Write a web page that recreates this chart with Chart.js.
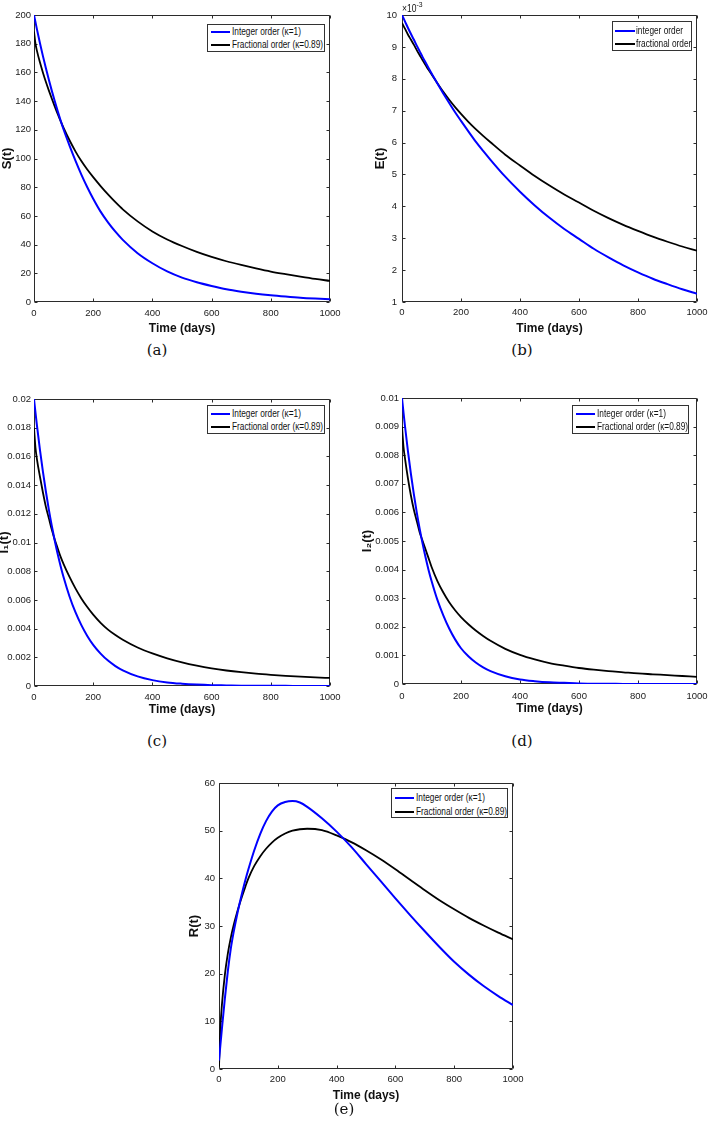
<!DOCTYPE html>
<html><head><meta charset="utf-8">
<script src="https://cdn.jsdelivr.net/npm/chart.js@4.4.1/dist/chart.umd.min.js"></script>
<style>
html,body{margin:0;padding:0;background:#fff;}
body{width:708px;height:1127px;position:relative;overflow:hidden;font-family:"Liberation Sans Narrow","Arial Narrow","Liberation Sans",Arial,sans-serif;}
canvas{position:absolute;}
.legend{position:absolute;background:#fff;border:1px solid #333;box-sizing:border-box;font-size:10px;color:#111;}
.row{position:absolute;left:0;right:0;height:12px;line-height:12px;white-space:nowrap;}
.sw{position:absolute;top:5px;height:2px;}
.lab{position:absolute;top:0;transform:scaleX(0.83);transform-origin:0 50%;}
.cap{position:absolute;font-family:"DejaVu Serif",serif;font-size:15px;color:#111;transform:translate(-50%,-50%);white-space:nowrap;}
.mult{position:absolute;font-size:10px;color:#111;white-space:nowrap;transform:scaleX(0.85);transform-origin:0 50%;}
.mult sup{font-size:8px;position:relative;top:-1px;}
</style></head><body>
<script>
// ---------- data ----------
const days = [0,5,10,20,30,40,50,60,70,80,90,100,120,140,160,180,200,225,250,275,300,350,400,450,500,550,600,650,700,750,800,850,900,950,1000];

const S_integer    = [200,195,190,180.5,171.5,163,155,147.3,140,133,126.4,120.2,109,98.5,88.8,80,72,63,55.5,49,43.3,34,27,21.3,17,13.8,11.2,8.9,7.2,5.8,4.7,3.8,3.0,2.4,1.9];
const S_fractional = [188.5,180,175,167,160,153.5,147.5,141.8,136.3,131,126,121.3,112.7,105,98.2,92.3,87,80.8,75,69.6,64.6,56.2,49.2,43.6,39,34.9,31.4,28.4,25.8,23.4,21.2,19.4,17.7,16.1,14.7];

// E(t) values in units of 1e-3
const E_integer    = [10,9.90,9.80,9.60,9.41,9.23,9.04,8.86,8.68,8.51,8.34,8.17,7.85,7.54,7.24,6.95,6.68,6.35,6.03,5.74,5.46,4.93,4.46,4.03,3.64,3.29,2.98,2.67,2.40,2.15,1.93,1.73,1.56,1.40,1.26];
const E_fractional = [9.75,9.66,9.57,9.39,9.23,9.07,8.90,8.74,8.58,8.43,8.28,8.14,7.86,7.59,7.34,7.11,6.90,6.65,6.42,6.21,6.01,5.62,5.28,4.95,4.65,4.37,4.12,3.86,3.63,3.42,3.23,3.05,2.89,2.74,2.61];

const I1_integer    = [0.0200,0.01905,0.01815,0.01647,0.01495,0.01357,0.01231,0.01118,0.01014,0.00920,0.00835,0.00758,0.00624,0.00514,0.00424,0.00349,0.00287,0.00226,0.00177,0.00139,0.00109,0.00067,0.00041,0.00025,0.00016,0.00010,0.00006,0.00004,0.00002,0.00001,0.00001,0.00001,0,0,0];
const I1_fractional = [0.0180,0.0166,0.0158,0.0146,0.0135,0.0125,0.0117,0.0109,0.0102,0.0096,0.0090,0.0085,0.0076,0.0068,0.0061,0.0055,0.00497,0.00440,0.00393,0.00355,0.00322,0.00268,0.00227,0.00193,0.00165,0.00142,0.00123,0.00108,0.00096,0.00086,0.00078,0.00071,0.00065,0.00060,0.00056];

const I2_integer    = [0.0100,0.00950,0.00903,0.00815,0.00736,0.00665,0.00600,0.00542,0.00490,0.00442,0.00399,0.00361,0.00294,0.00240,0.00194,0.00156,0.00125,0.00097,0.00075,0.00058,0.00045,0.00027,0.00016,0.00010,0.00006,0.00004,0.00002,0.00001,0.00001,0,0,0,0,0,0];
const I2_fractional = [0.0090,0.0083,0.0079,0.0072,0.0066,0.0061,0.0057,0.0053,0.0050,0.0047,0.0044,0.0041,0.0036,0.00320,0.00286,0.00258,0.00234,0.00209,0.00187,0.00168,0.00151,0.00123,0.00102,0.00086,0.00073,0.00064,0.00056,0.00050,0.00045,0.00041,0.00037,0.00034,0.00031,0.00028,0.00025];

const R_integer    = [1.8,5.2,8.5,14.8,20.5,25.2,28.8,31.9,34.7,37.3,39.7,41.9,45.9,49.3,52.0,54.0,55.3,56.0,56.2,55.9,55.0,52.6,49.8,46.6,43.0,39.4,35.8,32.3,28.9,25.6,22.5,19.8,17.4,15.3,13.4];
const R_fractional = [0.5,9,13.5,19.8,24.2,27.5,30.2,32.5,34.6,36.5,38.3,40,42.6,44.6,46.2,47.5,48.5,49.4,50,50.3,50.4,50.1,49.0,47.6,45.9,44.0,41.9,39.7,37.5,35.4,33.5,31.7,30.1,28.6,27.2];

// ---------- tick labels ----------
const xTicks   = [0,200,400,600,800,1000];
const yTicksS  = [0,20,40,60,80,100,120,140,160,180,200];
const yTicksE  = [1,2,3,4,5,6,7,8,9,10];
const yTicksI1 = [0,0.002,0.004,0.006,0.008,0.01,0.012,0.014,0.016,0.018,0.02];
const yTicksI2 = [0,0.001,0.002,0.003,0.004,0.005,0.006,0.007,0.008,0.009,0.01];
const yTicksR  = [0,10,20,30,40,50,60];

const legendKappa = ['Integer order (\u03BA=1)','Fractional order (\u03BA=0.89)'];
const legendPlain = ['integer order','fractional order'];

// ---------- drawing ----------
const FF = '"Liberation Sans Narrow","Arial Narrow","Liberation Sans",Arial,sans-serif';
const BLUE = '#0000ff', BLACK = '#000000';
const fmt = v => String(+Number(v).toFixed(4));

const boxPlugin = {
  id:'mbox',
  beforeDatasetsDraw(chart){
    const {ctx, chartArea:a, scales:{x,y}} = chart;
    ctx.save();
    ctx.strokeStyle = '#2b2b2b'; ctx.lineWidth = 1;
    ctx.beginPath();
    const L = Math.round(a.left)+0.5, T = Math.round(a.top)+0.5, R = Math.round(a.right)-0.5, B = Math.round(a.bottom)-0.5;
    ctx.rect(L, T, R-L, B-T);
    const tl = 3;
    x.ticks.forEach(t=>{
      const px = Math.round(x.getPixelForValue(t.value))+0.5;
      ctx.moveTo(px,B); ctx.lineTo(px,B-tl);
      ctx.moveTo(px,T); ctx.lineTo(px,T+tl);
    });
    y.ticks.forEach(t=>{
      const py = Math.round(y.getPixelForValue(t.value))+0.5;
      ctx.moveTo(L,py); ctx.lineTo(L+tl,py);
      ctx.moveTo(R,py); ctx.lineTo(R-tl,py);
    });
    ctx.stroke();
    ctx.restore();
  }
};

function panel(p){
  const W = (p.R-p.L)+p.padL+p.padR, H = (p.B-p.T)+p.padT+p.padB;
  const c = document.createElement('canvas');
  c.width = W; c.height = H;
  c.style.left = (p.L-p.padL)+'px'; c.style.top = (p.T-p.padT)+'px';
  c.style.width = W+'px'; c.style.height = H+'px';
  document.body.appendChild(c);
  const mk = (arr)=>days.map((d,i)=>({x:d,y:arr[i]}));
  new Chart(c,{
    type:'line',
    data:{datasets:[
      {label:p.names[0], data:mk(p.s1), borderColor:BLUE, borderWidth:2, pointRadius:0, fill:false, cubicInterpolationMode:'monotone'},
      {label:p.names[1], data:mk(p.s2), borderColor:BLACK, borderWidth:1.8, pointRadius:0, fill:false, cubicInterpolationMode:'monotone'}
    ]},
    options:{
      responsive:false, animation:false, devicePixelRatio:1, events:[],
      layout:{padding:{left:0,top:p.padT,right:p.padR,bottom:0}},
      plugins:{legend:{display:false},tooltip:{enabled:false}},
      scales:{
        x:{type:'linear',min:0,max:1000,
          afterBuildTicks:s=>{s.ticks = xTicks.map(v=>({value:v}));},
          afterFit:s=>{s.height=p.padB; s.paddingLeft=0; s.paddingRight=0;},
          grid:{display:false,drawTicks:false}, border:{display:false},
          ticks:{padding:p.xtp,color:'#1a1a1a',font:{family:FF,size:9.5},maxRotation:0,autoSkip:false,callback:fmt},
          title:{display:true,text:'Time (days)',color:'#111',font:{family:FF,size:12,weight:'bold'},padding:{top:0,bottom:p.xttp}}
        },
        y:{type:'linear',min:p.ymin,max:p.ymax,
          afterBuildTicks:s=>{s.ticks = p.yt.map(v=>({value:v}));},
          afterFit:s=>{s.width=p.padL; s.paddingTop=0; s.paddingBottom=0;},
          grid:{display:false,drawTicks:false}, border:{display:false},
          ticks:{padding:p.ytp,color:'#1a1a1a',font:{family:FF,size:9.5},autoSkip:false,callback:fmt},
          title:{display:true,text:p.ytitle,color:'#111',font:{family:FF,size:13,weight:'bold'},padding:{top:p.yttp,bottom:0}}
        }
      }
    },
    plugins:[boxPlugin]
  });
}

function legend(left,top,w,h,names,r1,r2,swL,swW,txL){
  const d = document.createElement('div');
  d.className='legend';
  d.style.left=left+'px'; d.style.top=top+'px'; d.style.width=w+'px'; d.style.height=h+'px';
  [[names[0],BLUE,r1],[names[1],BLACK,r2]].forEach(([t,col,rt])=>{
    const r=document.createElement('div'); r.className='row'; r.style.top=rt+'px';
    const s=document.createElement('div'); s.className='sw'; s.style.left=swL+'px'; s.style.width=swW+'px'; s.style.background=col;
    const l=document.createElement('div'); l.className='lab'; l.style.left=txL+'px'; l.textContent=t;
    r.appendChild(s); r.appendChild(l); d.appendChild(r);
  });
  document.body.appendChild(d);
}
function caption(t,x,y){
  const d=document.createElement('div'); d.className='cap'; d.textContent=t;
  d.style.left=x+'px'; d.style.top=y+'px'; document.body.appendChild(d);
}

// (a)
panel({L:34,T:15,R:330,B:302,padL:34,padT:12,padR:14,padB:34,xtp:6,xttp:0,ytp:3,yttp:0,
  ymin:0,ymax:200,yt:yTicksS,ytitle:'S(t)',s1:S_integer,s2:S_fractional,names:legendKappa});
// (b)
panel({L:402,T:15,R:697,B:302,padL:30,padT:12,padR:11,padB:34,xtp:5,xttp:0,ytp:5,yttp:1,
  ymin:1,ymax:10,yt:yTicksE,ytitle:'E(t)',s1:E_integer,s2:E_fractional,names:legendPlain});
// (c)
panel({L:34,T:399,R:330,B:686,padL:37,padT:12,padR:14,padB:31,xtp:6,xttp:0,ytp:3,yttp:0,
  ymin:0,ymax:0.02,yt:yTicksI1,ytitle:'I\u2081(t)',s1:I1_integer,s2:I1_fractional,names:legendKappa});
// (d)
panel({L:402,T:398,R:697,B:684,padL:42,padT:12,padR:11,padB:32,xtp:7,xttp:0,ytp:3,yttp:0,
  ymin:0,ymax:0.01,yt:yTicksI2,ytitle:'I\u2082(t)',s1:I2_integer,s2:I2_fractional,names:legendKappa});
// (e)
panel({L:219,T:783,R:513,B:1069,padL:32,padT:12,padR:14,padB:34,xtp:5,xttp:0,ytp:4,yttp:0,
  ymin:0,ymax:60,yt:yTicksR,ytitle:'R(t)',s1:R_integer,s2:R_fractional,names:legendKappa});

legend(207,24,118,28,legendKappa,1,14,3,19,24);
legend(612,21,80,30,legendPlain,3,16,2,20,23);
legend(207,405,118,29,legendKappa,2,15,3,19,24);
legend(572,405,117,29,legendKappa,2,15,3,19,24);
legend(391,788,117,30,legendKappa,3,17,3,19,24);

const m=document.createElement('div'); m.className='mult';
m.style.left='402px'; m.style.top='1px'; m.innerHTML='\u00D710<sup>-3</sup>';
document.body.appendChild(m);

caption('(a)',157,350); caption('(b)',522,350);
caption('(c)',157,741); caption('(d)',522,741);
caption('(e)',344,1109);
</script>
</body></html>
